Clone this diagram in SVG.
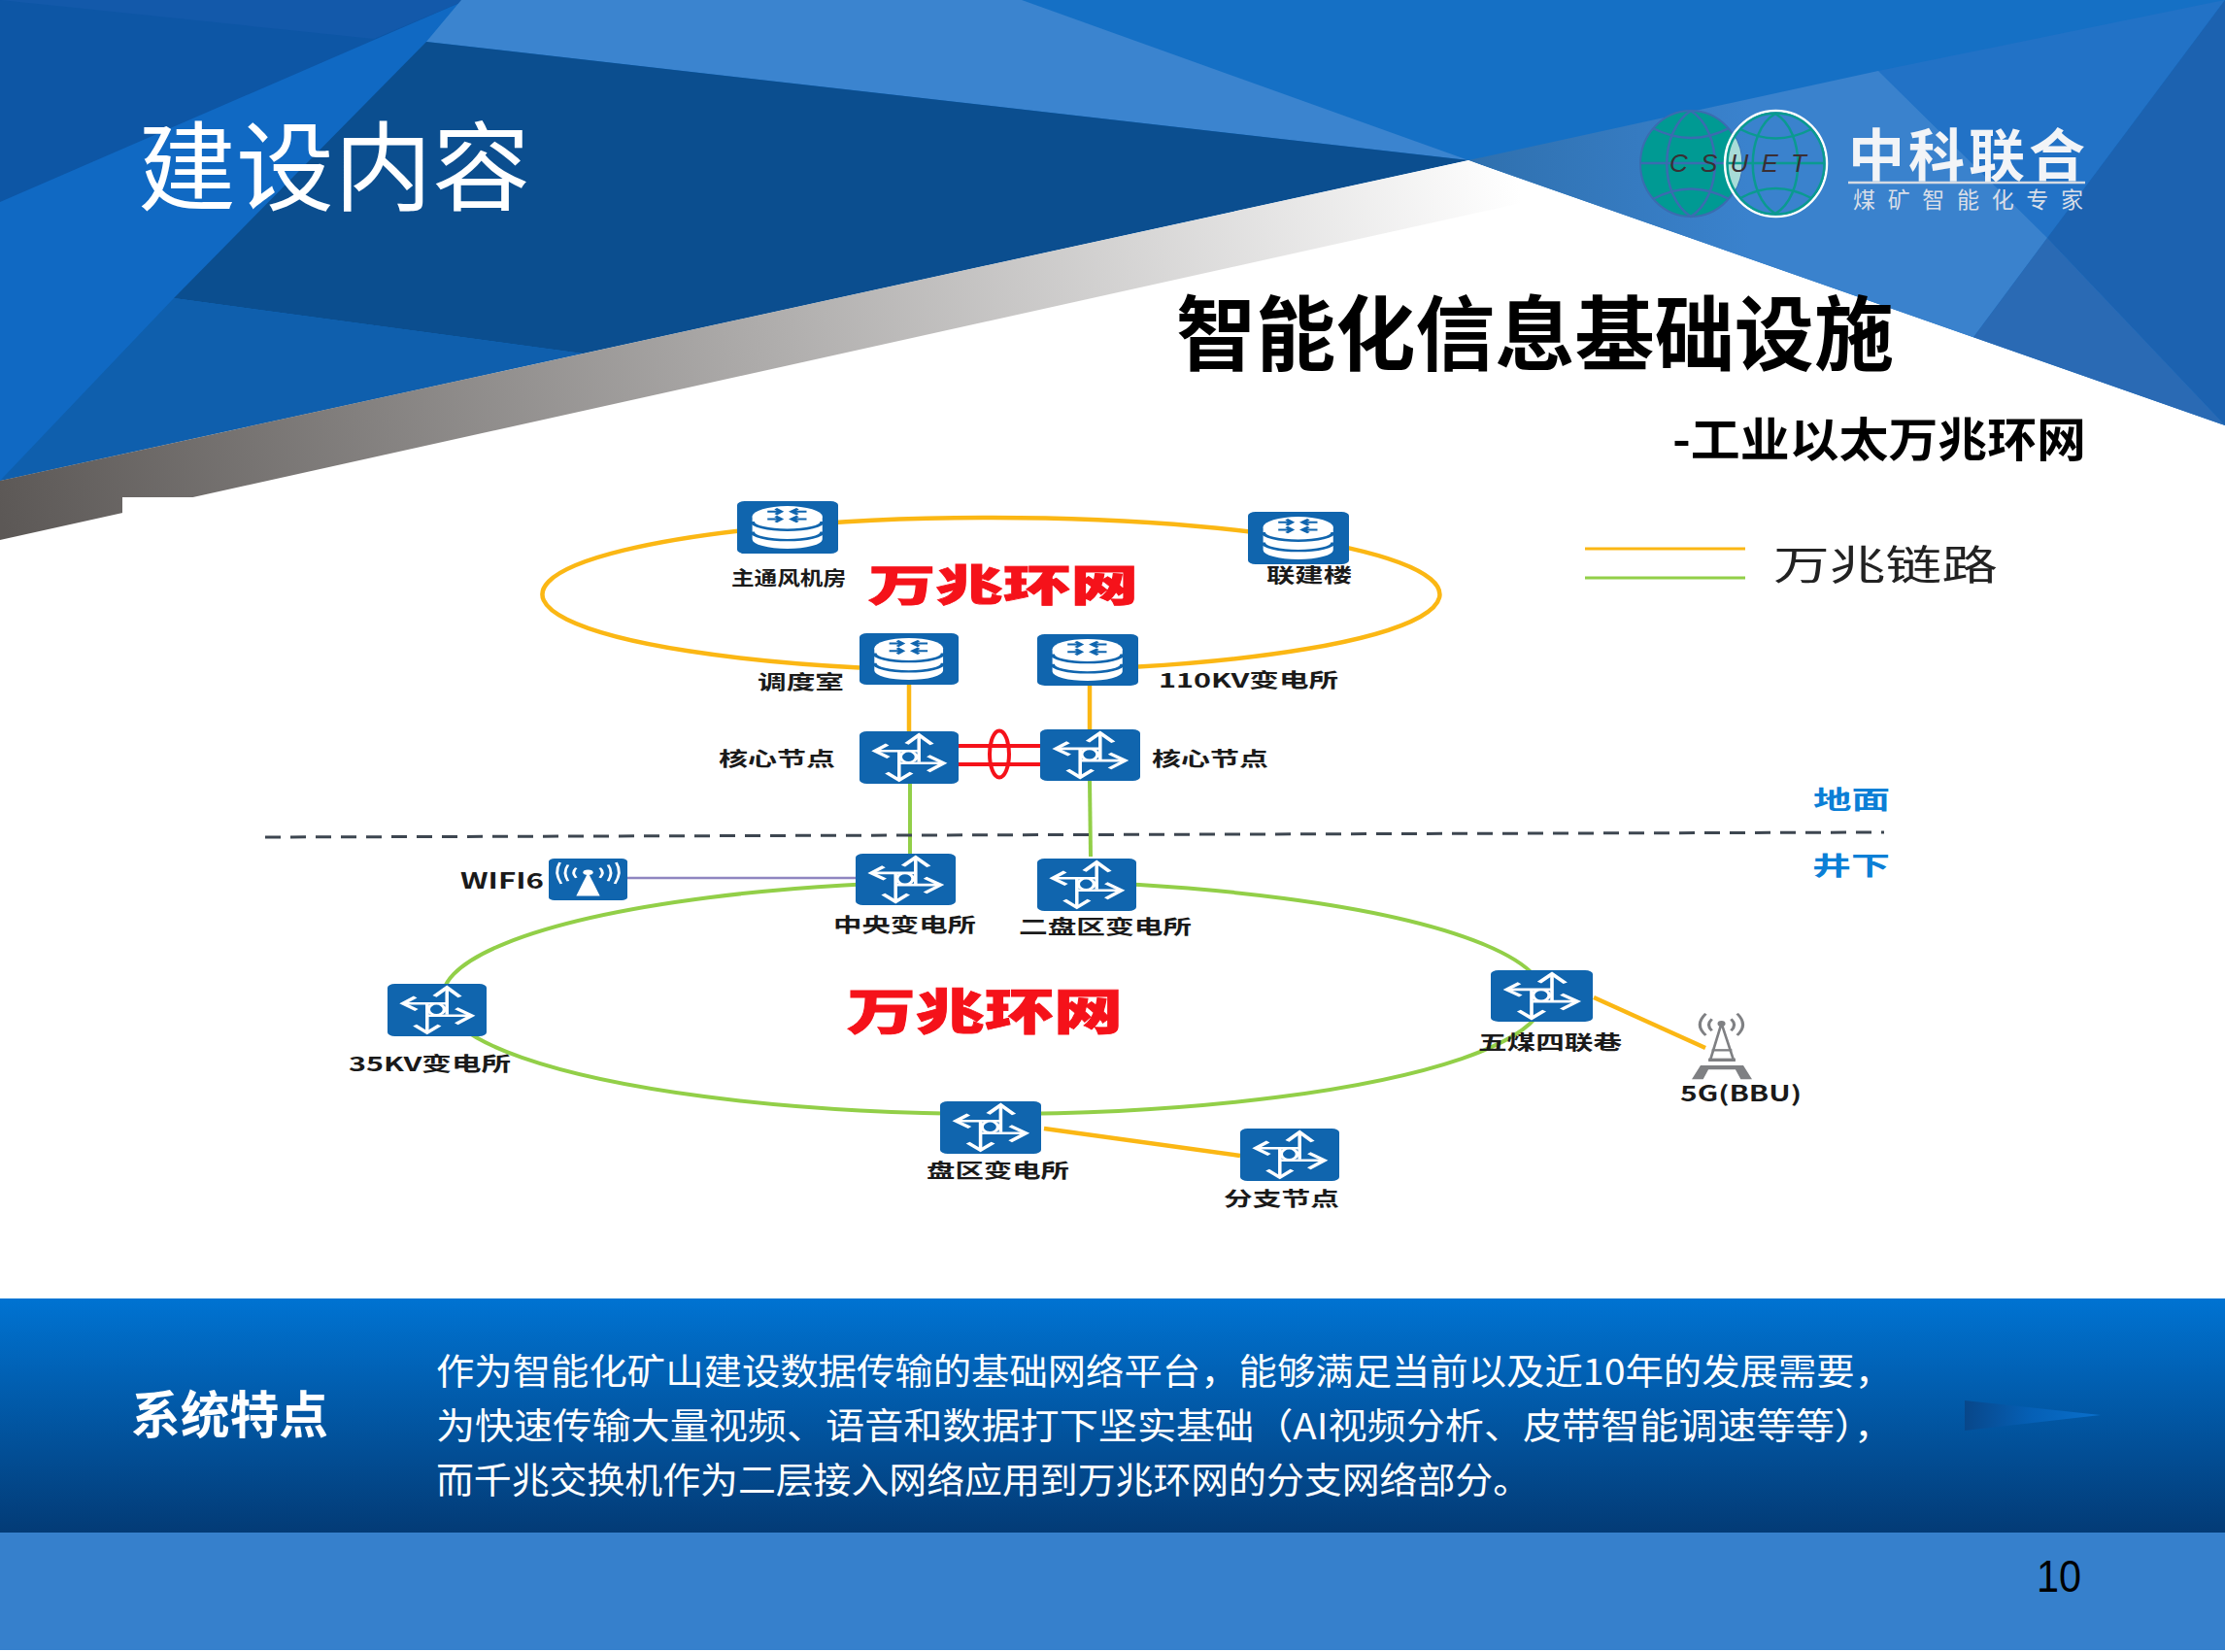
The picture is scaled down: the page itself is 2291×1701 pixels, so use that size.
<svg xmlns="http://www.w3.org/2000/svg" width="2291" height="1701" viewBox="0 0 2291 1701">
<style>
text{font-family:"Noto Sans CJK SC","Noto Sans",sans-serif}
.lb{font-size:20px;font-weight:700;fill:#1a1a1a}
.rd{font-weight:900;fill:#f5121a;stroke:#f5121a;stroke-width:.8}
.bl{font-size:26px;font-weight:700;fill:#0b7fd6}
.body{font-size:37px;fill:#fff}
.yl{stroke:#fbb714;stroke-width:4.5;fill:none}
.gr{stroke:#92cf48;stroke-width:4;fill:none}
.red{stroke:#f5121a;stroke-width:4;fill:none}
</style>
<defs>
<linearGradient id="band" gradientUnits="userSpaceOnUse" x1="1560" y1="175" x2="0" y2="530"><stop offset="0" stop-color="#fff"/><stop offset="1" stop-color="#5c5856"/></linearGradient>
<linearGradient id="panel" x1="0" y1="0" x2="0" y2="1"><stop offset="0" stop-color="#0073d2"/><stop offset="1" stop-color="#033b76"/></linearGradient>
<linearGradient id="tri" x1="0" y1="0" x2="1" y2="0"><stop offset="0" stop-color="#08478a"/><stop offset=".5" stop-color="#0560b6"/><stop offset="1" stop-color="#0a70cc"/></linearGradient>
<linearGradient id="logoBg" gradientUnits="userSpaceOnUse" x1="1512" y1="165" x2="1800" y2="160"><stop offset="0" stop-color="#2f70ae"/><stop offset="1" stop-color="#3a82cd"/></linearGradient>
<symbol id="router" viewBox="0 0 160 160" preserveAspectRatio="none">
<rect width="160" height="160" rx="12" fill="#1065ae"/>
<path d="M24,47 V116 A55.500,29 0 0 0 135,116 V47 Z" fill="#fff"/><ellipse cx="79.500" cy="47" rx="55.500" ry="32" fill="#fff"/>
<path d="M24,62 A55.500,26 0 0 0 135,62 M24,93 A55.500,26 0 0 0 135,93" fill="none" stroke="#1065ae" stroke-width="7"/>
<path d="M48,32 H70 M61,23 L70,32 L61,41 M48,55 H70 M61,46 L70,55 L61,64 M110,32 H86 M96,23 L86,32 L96,41 M110,55 H86 M96,46 L86,55 L96,64" fill="none" stroke="#1065ae" stroke-width="6"/>
</symbol>
<symbol id="switch" viewBox="0 0 160 160" preserveAspectRatio="none">
<rect width="160" height="160" rx="12" fill="#1065ae"/>
<g fill="none" stroke="#fff">
<path d="M64,60 V148 M96,12 V94" stroke-width="5.500"/>
<path d="M26,60 H96 M64,97 H134" stroke-width="8"/>
<path d="M45,40 L25,60 L47,80 M44,126 L64,149 L84,126 M76,38 L96,11 L117,40 M111,75 L136,97 L111,122" stroke-width="8"/>
</g>
<ellipse cx="79" cy="78" rx="13" ry="17" fill="#1065ae" stroke="#fff" stroke-width="6"/>
</symbol>
<symbol id="ap" viewBox="0 0 126 126" preserveAspectRatio="none">
<rect width="126" height="126" rx="9" fill="#1065ae"/>
<path d="M63,42 L44,113 H82 Z" fill="#fff"/><circle cx="63" cy="42" r="8" fill="#fff"/>
<path d="M44,28 Q36,42 44,58 M31,19 Q22,42 31,68 M18,12 Q8,42 20,76 M82,28 Q90,42 82,58 M95,19 Q104,42 95,68 M108,12 Q118,42 106,76" fill="none" stroke="#fff" stroke-width="4.500"/>
</symbol>
<symbol id="tower" viewBox="0 0 138 210" preserveAspectRatio="none">
<g fill="none" stroke="#7f8083">
<path d="M68,35 L42,150 M68,35 L96,150" stroke-width="6"/>
<path d="M46,118 H92" stroke-width="7"/>
<path d="M38,148 H100" stroke-width="10"/>
<path d="M32,5 Q5,40 32,72 M46,22 Q32,40 46,58 M104,5 Q130,40 104,72 M90,22 Q104,40 90,58" stroke-width="7"/>
</g>
<circle cx="68" cy="36" r="9" fill="#7f8083"/>
<path d="M0,208 L20,165 H118 L138,208 H112 L100,178 H38 L26,208 Z" fill="#7f8083"/>
</symbol>
</defs>
<g id="background">
<rect width="2291" height="1701" fill="#fff"/>
<polygon points="0,0 2291,0 2291,438 1512,165 0,495" fill="#1570c5"/>
<polygon points="475,0 439,43 0,495 0,207" fill="#1069c3"/>
<polygon points="0,0 480,0 0,208" fill="#0d56a5"/>
<polygon points="0,0 480,0 385,40" fill="#1359aa"/>
<polygon points="475,0 1052,0 1512,165 439,43" fill="#3b84cf"/>
<polygon points="439,43 1512,165 600,364 179,307" fill="#0b4e8f"/>
<polygon points="179,307 600,364 0,495" fill="#0f5fad"/>
<polygon points="1934,73 2291,0 2108,245" fill="#2272c6"/>
<polygon points="1512,165 1934,73 2108,245 2032,347.200" fill="url(#logoBg)"/>
<polygon points="2108,245 2291,0 2291,438" fill="#1c62b0"/>
<polygon points="2108,245 2291,438 2032,347.200" fill="#2a6ab4"/>
<polygon points="1512,165 1607,200 0,556 0,495" fill="url(#band)"/>
<rect x="126" y="512" width="2040" height="800" fill="#fff"/>
<rect y="1337" width="2291" height="241" fill="url(#panel)"/>
<rect y="1578" width="2291" height="121" fill="#3680cc"/>
<polygon points="2023,1442 2163,1457 2023,1473" fill="url(#tri)"/>
<text x="142" y="209" font-size="100" fill="#fff" textLength="404" lengthAdjust="spacingAndGlyphs">建设内容</text>
<text x="1211" y="375" font-size="84" font-weight="700" fill="#000" textLength="739" lengthAdjust="spacingAndGlyphs">智能化信息基础设施</text>
<text x="1722" y="470" font-size="48" font-weight="700" fill="#000" textLength="426" lengthAdjust="spacingAndGlyphs">-工业以太万兆环网</text>
<text x="135" y="1476" font-size="52" font-weight="700" fill="#fff" textLength="203" lengthAdjust="spacingAndGlyphs">系统特点</text>
<text class="body" x="449" y="1426" textLength="1500" lengthAdjust="spacingAndGlyphs">作为智能化矿山建设数据传输的基础网络平台，能够满足当前以及近10年的发展需要，</text>
<text class="body" x="449" y="1482" textLength="1500" lengthAdjust="spacingAndGlyphs">为快速传输大量视频、语音和数据打下坚实基础（AI视频分析、皮带智能调速等等），</text>
<text class="body" x="449" y="1538" textLength="1127" lengthAdjust="spacingAndGlyphs">而千兆交换机作为二层接入网络应用到万兆环网的分支网络部分。</text>
<text x="2097" y="1639" font-size="46" fill="#000" style="font-family:'Liberation Sans',sans-serif" textLength="46" lengthAdjust="spacingAndGlyphs">10</text>
</g>
<g id="logo">
<ellipse cx="1741" cy="168.500" rx="52" ry="54.500" fill="#009a93" stroke="#3a6cb0" stroke-width="2"/>
<path d="M1741,114 C1708,135 1708,202 1741,223 C1774,202 1774,135 1741,114 M1689,168 H1793 M1702,132 Q1741,152 1780,132 M1702,205 Q1741,184 1780,205" fill="none" stroke="#3a6cb0" stroke-width="2.500"/>
<path d="M1784.500,138 A52,54.500 0 0 1 1784.500,199 A52,54.500 0 0 1 1784.500,138 Z" fill="#a8dcd8"/>
<ellipse cx="1828.500" cy="168.500" rx="52.500" ry="54.500" fill="none" stroke="#fff" stroke-width="2.500"/>
<ellipse cx="1828.500" cy="168.500" rx="50" ry="52" fill="none" stroke="#0a9a90" stroke-width="2.500"/>
<path d="M1828,117 C1797,135 1797,202 1828,220 C1859,202 1859,135 1828,117 M1778,168 H1879 M1792,133 Q1828,152 1865,133 M1792,204 Q1828,184 1865,204" fill="none" stroke="#0a9a90" stroke-width="2.500"/>
<text x="1719" y="177" font-size="26" font-style="italic" fill="#3a2f34" style="font-family:'Liberation Sans',sans-serif" textLength="141" lengthAdjust="spacing">CSUET</text>
<text x="1903" y="181" font-size="58" font-weight="700" fill="#f2f4f7" textLength="244" lengthAdjust="spacing">中科联合</text>
<line x1="1903" y1="188" x2="2147" y2="188" stroke="#d5dbe3" stroke-width="2.500"/>
<text x="1908" y="214" font-size="23" fill="#d8dee8" textLength="237" lengthAdjust="spacing">煤矿智能化专家</text>
</g>
<g id="legend">
<line class="yl" x1="1632" y1="565" x2="1797" y2="565" style="stroke-width:3"/>
<line class="gr" x1="1632" y1="595" x2="1797" y2="595" style="stroke-width:3"/>
<text x="1826" y="597" font-size="42" fill="#222" textLength="231" lengthAdjust="spacingAndGlyphs">万兆链路</text>
</g>
<g id="connectors">
<path class="yl" d="M885,687.500 A462,79 0 1 1 1172,686.600"/>
<path class="gr" d="M984,907.200 A567,120 0 1 0 1068,907.300"/>
<line class="yl" x1="936" y1="705" x2="936" y2="753"/>
<line class="yl" x1="1122" y1="706" x2="1122" y2="751"/>
<line class="gr" x1="937" y1="807" x2="937" y2="879"/>
<line class="gr" x1="1122" y1="804" x2="1123" y2="882"/>
<line class="red" x1="987" y1="768" x2="1071" y2="768"/>
<line class="red" x1="987" y1="787" x2="1071" y2="787"/>
<ellipse class="red" cx="1029" cy="776.500" rx="10" ry="24"/>
<line x1="273" y1="862" x2="1940" y2="857" stroke="#3d4650" stroke-width="3" stroke-dasharray="16 10"/>
<line x1="646" y1="904" x2="881" y2="904" stroke="#8f86c0" stroke-width="2.500"/>
<line class="yl" x1="1075" y1="1162" x2="1277" y2="1190"/>
<line class="yl" x1="1641" y1="1027" x2="1756" y2="1079"/>
</g>
<g id="n-zhutongfeng"><use href="#router" x="759" y="516" width="104" height="54"/><text class="lb" x="753" y="603" textLength="118" lengthAdjust="spacingAndGlyphs">主通风机房</text></g>
<g id="n-lianjian"><use href="#router" x="1285" y="527" width="104" height="54"/><text class="lb" x="1304" y="600" textLength="88" lengthAdjust="spacingAndGlyphs">联建楼</text></g>
<g id="n-diaodu"><use href="#router" x="885" y="652" width="102" height="53"/><text class="lb" x="780" y="710" textLength="89" lengthAdjust="spacingAndGlyphs">调度室</text></g>
<g id="n-110kv"><use href="#router" x="1068" y="653" width="104" height="53"/><text class="lb" x="1193" y="708" textLength="185" lengthAdjust="spacingAndGlyphs">110KV变电所</text></g>
<g id="n-core-l"><use href="#switch" x="885" y="753" width="102" height="54"/><text class="lb" x="740" y="789" textLength="120" lengthAdjust="spacingAndGlyphs">核心节点</text></g>
<g id="n-core-r"><use href="#switch" x="1071" y="751" width="103" height="53"/><text class="lb" x="1186" y="789" textLength="120" lengthAdjust="spacingAndGlyphs">核心节点</text></g>
<g id="n-zhongyang"><use href="#switch" x="881" y="879" width="103" height="53"/><text class="lb" x="858" y="960" textLength="147" lengthAdjust="spacingAndGlyphs">中央变电所</text></g>
<g id="n-erpan"><use href="#switch" x="1068" y="884" width="102" height="54"/><text class="lb" x="1049" y="962" textLength="178" lengthAdjust="spacingAndGlyphs">二盘区变电所</text></g>
<g id="n-wifi"><use href="#ap" x="565" y="884" width="81" height="43"/><text class="lb" x="474" y="915" style="font-size:22px" textLength="86" lengthAdjust="spacingAndGlyphs">WIFI6</text></g>
<g id="n-35kv"><use href="#switch" x="399" y="1013" width="102" height="54"/><text class="lb" x="359" y="1103" textLength="167" lengthAdjust="spacingAndGlyphs">35KV变电所</text></g>
<g id="n-panqu"><use href="#switch" x="968" y="1134" width="104" height="54"/><text class="lb" x="954" y="1213" textLength="147" lengthAdjust="spacingAndGlyphs">盘区变电所</text></g>
<g id="n-fenzhi"><use href="#switch" x="1277" y="1162" width="102" height="54"/><text class="lb" x="1260" y="1242" textLength="119" lengthAdjust="spacingAndGlyphs">分支节点</text></g>
<g id="n-wumei"><use href="#switch" x="1535" y="999" width="105" height="53"/><text class="lb" x="1522" y="1081" textLength="148" lengthAdjust="spacingAndGlyphs">五煤四联巷</text></g>
<g id="n-5g"><use href="#tower" x="1742" y="1042" width="62" height="70"/><text class="lb" x="1730" y="1134" style="font-size:22px" textLength="125" lengthAdjust="spacingAndGlyphs">5G(BBU)</text></g>
<g id="ring-labels">
<text class="rd" x="894" y="619" font-size="44" textLength="278" lengthAdjust="spacingAndGlyphs">万兆环网</text>
<text class="rd" x="872" y="1060" font-size="50" textLength="284" lengthAdjust="spacingAndGlyphs">万兆环网</text>
<text class="bl" x="1867" y="833" textLength="79" lengthAdjust="spacingAndGlyphs">地面</text>
<text class="bl" x="1866" y="901" textLength="80" lengthAdjust="spacingAndGlyphs">井下</text>
</g>
</svg>
